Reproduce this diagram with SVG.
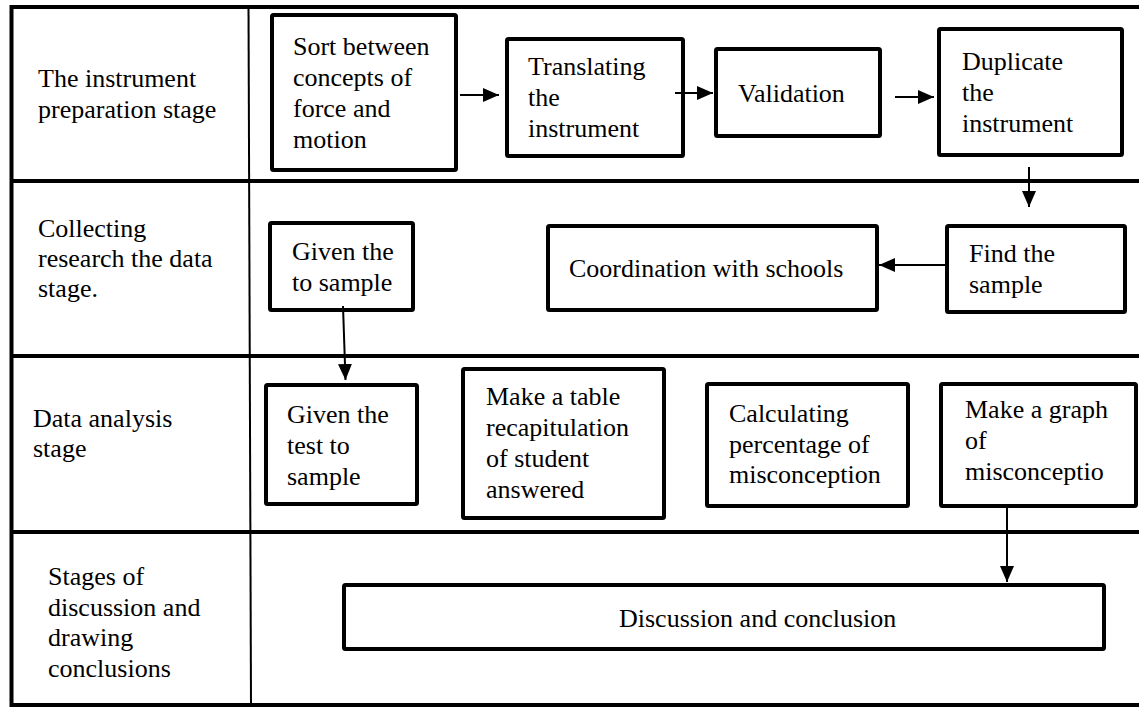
<svg xmlns="http://www.w3.org/2000/svg" width="1139" height="708" viewBox="0 0 1139 708">
<style>
.grid{stroke:#000;stroke-width:4;fill:none}
.col{stroke:#000;stroke-width:2;fill:none}
.box{fill:#fff;stroke:#000;stroke-width:4}
.conn{stroke:#000;stroke-width:2;fill:none;marker-end:url(#ah)}
</style>
<defs>
<marker id="ah" viewBox="0 0 16 14" refX="16" refY="7" markerWidth="16" markerHeight="14" markerUnits="userSpaceOnUse" orient="auto">
<path d="M0,0 L16,7 L0,14 z" fill="#000"/>
</marker>
</defs>
<rect width="1139" height="708" fill="#fff"/>
<g id="table">
<line class="grid" x1="10" y1="7" x2="1139" y2="7"/>
<line class="grid" x1="11.5" y1="5" x2="11.5" y2="707"/>
<line class="grid" x1="10" y1="181" x2="1139" y2="181"/>
<line class="grid" x1="10" y1="356" x2="1139" y2="356"/>
<line class="grid" x1="10" y1="532" x2="1139" y2="532"/>
<line class="grid" x1="10" y1="705" x2="1139" y2="705"/>
<line class="col" x1="248.5" y1="7" x2="251" y2="705"/>
</g>
<g font-family="'Liberation Serif', 'Times New Roman', 'DejaVu Serif', serif" font-size="26" fill="#000">
<g id="stage-labels">
<text x="38" y="87">The instrument</text>
<text x="38" y="118">preparation stage</text>
<text x="38" y="237">Collecting</text>
<text x="38" y="267">research the data</text>
<text x="38" y="297">stage.</text>
<text x="33" y="427">Data analysis</text>
<text x="33" y="457">stage</text>
<text x="48" y="585">Stages of</text>
<text x="48" y="615.5">discussion and</text>
<text x="48" y="646">drawing</text>
<text x="48" y="676.5">conclusions</text>
</g>
<g id="n-sort">
<rect class="box" x="272" y="15" width="184" height="155" rx="1.5"/>
<text x="293" y="55">Sort between</text>
<text x="293" y="86">concepts of</text>
<text x="293" y="117">force and</text>
<text x="293" y="148">motion</text>
</g>
<g id="n-translate">
<rect class="box" x="507" y="39" width="176" height="117" rx="1.5"/>
<text x="528" y="75">Translating</text>
<text x="528" y="106">the</text>
<text x="528" y="137">instrument</text>
</g>
<g id="n-validation">
<rect class="box" x="716" y="49" width="164" height="87" rx="1.5"/>
<text x="738" y="102">Validation</text>
</g>
<g id="n-duplicate">
<rect class="box" x="939" y="29" width="183" height="126" rx="1.5"/>
<text x="962" y="70">Duplicate</text>
<text x="962" y="101">the</text>
<text x="962" y="132">instrument</text>
</g>
<g id="n-given1">
<rect class="box" x="270" y="223" width="143" height="87" rx="1.5"/>
<text x="292" y="260">Given the</text>
<text x="292" y="291">to sample</text>
</g>
<g id="n-coordination">
<rect class="box" x="548" y="226" width="329" height="84" rx="1.5"/>
<text x="569" y="277">Coordination with schools</text>
</g>
<g id="n-find">
<rect class="box" x="947" y="226" width="178" height="86" rx="1.5"/>
<text x="969" y="262">Find the</text>
<text x="969" y="293">sample</text>
</g>
<g id="n-given2">
<rect class="box" x="266" y="385" width="151" height="119" rx="1.5"/>
<text x="287" y="423">Given the</text>
<text x="287" y="454">test to</text>
<text x="287" y="485">sample</text>
</g>
<g id="n-table">
<rect class="box" x="463" y="369" width="201" height="149" rx="1.5"/>
<text x="486" y="405">Make a table</text>
<text x="486" y="436">recapitulation</text>
<text x="486" y="467">of student</text>
<text x="486" y="498">answered</text>
</g>
<g id="n-calc">
<rect class="box" x="707" y="384" width="201" height="122" rx="1.5"/>
<text x="729" y="422">Calculating</text>
<text x="729" y="452.5">percentage of</text>
<text x="729" y="483">misconception</text>
</g>
<g id="n-graph">
<rect class="box" x="941" y="384" width="195" height="122" rx="1.5"/>
<text x="965" y="418">Make a graph</text>
<text x="965" y="449">of</text>
<text x="965" y="480">misconceptio</text>
</g>
<g id="n-discussion">
<rect class="box" x="344" y="585" width="760" height="64" rx="1.5"/>
<text x="619" y="627">Discussion and conclusion</text>
</g>
</g>
<g id="connectors">
<line class="conn" x1="460" y1="95" x2="499" y2="95"/>
<line class="conn" x1="675" y1="93" x2="713" y2="93"/>
<line class="conn" x1="895" y1="97" x2="934" y2="97"/>
<line class="conn" x1="1029" y1="167" x2="1029" y2="207"/>
<line class="conn" x1="945" y1="265" x2="879" y2="265"/>
<line class="conn" x1="343" y1="306" x2="345.5" y2="380"/>
<line class="conn" x1="1007" y1="508" x2="1007" y2="582"/>
</g>
</svg>
